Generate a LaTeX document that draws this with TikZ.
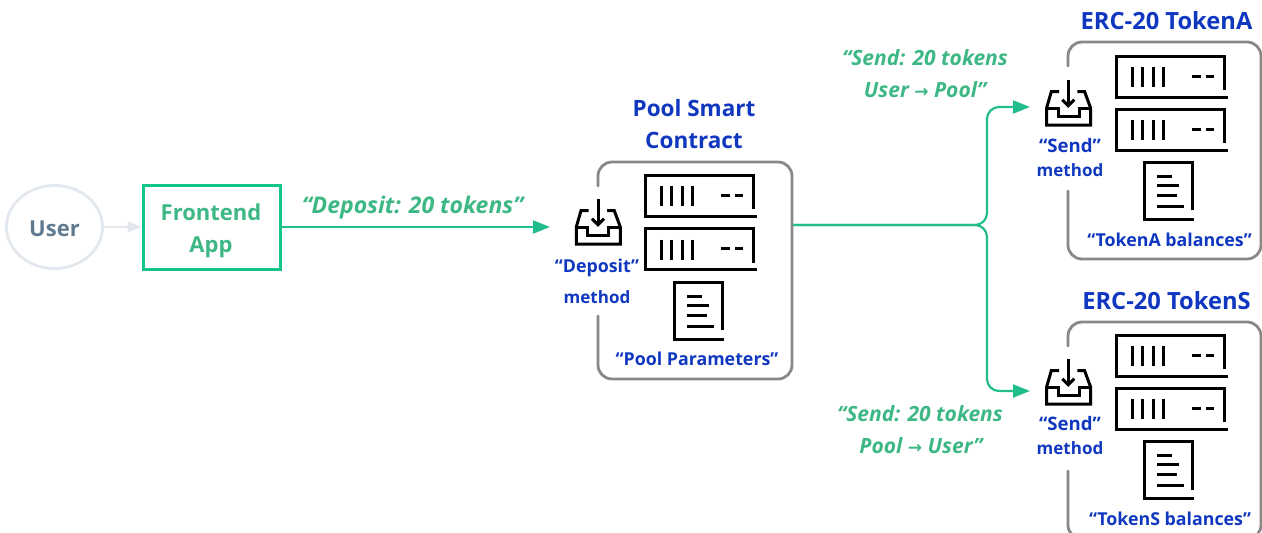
\documentclass[tikz,border=0pt]{standalone}
\usepackage{fontspec}
\setmainfont{Open Sans}
\newfontfamily\uifont{Open Sans}
\newfontfamily\arrowfont{DejaVu Sans}
\usetikzlibrary{arrows.meta,shapes.geometric}
\definecolor{tblue}{HTML}{0F37BF}
\definecolor{tgreen}{HTML}{3DB884}
\definecolor{lgreen}{HTML}{13C58A}
\definecolor{cgreen}{HTML}{22BD8C}
\definecolor{pale}{HTML}{E2E8EE}
\definecolor{slate}{HTML}{5F7A8F}
\definecolor{framegray}{HTML}{888888}
\newcommand{\rarr}{{\arrowfont\bfseries\upshape\fontsize{17}{20}\selectfont →}}
\tikzset{
  lab/.style={inner sep=0pt,anchor=base,text=tblue,font=\fontsize{17}{20}\selectfont\bfseries},
  qlab/.style={inner sep=0pt,anchor=base,text=tblue,font=\fontsize{17.8}{20}\selectfont\bfseries},
  sendlab/.style={inner sep=0pt,anchor=base,text=tblue,font=\fontsize{18.6}{20}\selectfont\bfseries},
  head/.style={inner sep=0pt,anchor=base,text=tblue,font=\fontsize{22.5}{26}\selectfont\bfseries},
  bighead/.style={inner sep=0pt,anchor=base,text=tblue,font=\fontsize{23.7}{26}\selectfont\bfseries},
  say/.style={inner sep=0pt,anchor=base,text=tgreen,font=\fontsize{21}{24}\selectfont\bfseries\itshape},
  bigsay/.style={inner sep=0pt,anchor=base,text=tgreen,font=\fontsize{23}{26}\selectfont\bfseries\itshape},
  uilab/.style={inner sep=0pt,anchor=base,font=\uifont\fontsize{22}{26}\selectfont\bfseries},
  frame/.style={draw=framegray,line width=2.8pt,rounded corners=14pt,line cap=round},
  icon/.style={draw=black,line width=3pt,line join=miter},
  flow/.style={draw=cgreen,line width=2.2pt,rounded corners=12pt,-{Triangle[length=17pt,width=13pt]}}
}
\newcommand{\serverglyph}[2]{%
  \begin{scope}[shift={(#1,#2)}]
    \draw[icon] (108,34) -- (108,0) -- (0,0) -- (0,41) -- (112,41);
    \foreach \xx in {16,26,37,47}{\draw[icon] (\xx,11) -- (\xx,31);}
    \draw[icon] (76,20) -- (85,20);
    \draw[icon] (90,20) -- (98,20);
  \end{scope}}
\newcommand{\docglyph}[2]{%
  \begin{scope}[shift={(#1,#2)}]
    \draw[icon] (48,48) -- (48,0) -- (0,0) -- (0,57) -- (50,57);
    \draw[icon] (13,14) -- (28,14);
    \draw[icon] (13,23) -- (35,23);
    \draw[icon] (13,33) -- (33,33);
    \draw[icon] (13,44) -- (40,44);
  \end{scope}}
\newcommand{\trayglyph}[2]{%
  \begin{scope}[shift={(#1,#2)}]
    \draw[icon] (-9.3,11.7) -- (-17,11.7) -- (-21.7,28) -- (-21.7,45) -- (22.3,45) -- (22.3,28) -- (16.3,11.7) -- (9,11.7);
    \draw[icon] (-21.7,28) -- (-10.3,28) -- (-10.3,36.7) -- (10.7,36.7) -- (10.7,28) -- (22.3,28);
    \draw[icon] (0,0) -- (0,25);
    \draw[icon] (-6,19.7) -- (0,25.7) -- (6,19.7);
  \end{scope}}
\newcommand{\framepath}[6]{% left top right bottom gaptop gapbottom
  \draw[frame] (#1,#5) -- (#1,#2) -- (#3,#2) -- (#3,#4) -- (#1,#4) -- (#1,#6);}
\begin{document}
\begin{tikzpicture}[x=1pt,y=-1pt]
\useasboundingbox (0,0) rectangle (1262,533);
\clip (0,0) rectangle (1262,533);
% user and frontend
\node[draw=pale,line width=2.8pt,ellipse,minimum width=96pt,minimum height=83pt,inner sep=0pt] (user) at (54.5,227) {};
\node[uilab,text=slate] (usertxt) at (54.5,236) {User};
\node[draw=lgreen,line width=3pt,minimum width=137pt,minimum height=84pt,inner sep=0pt] (front) at (211.5,227) {};
\node[uilab,text=tgreen] (fronta) at (211,220) {Frontend};
\node[uilab,text=tgreen] (frontb) at (211,252) {App};
\draw[draw=pale,line width=1.5pt,-{Triangle[length=14pt,width=11pt]}] (user.east) -- (front.west);
% pool
\node[head] (poolh1) at (694,116) {Pool Smart};
\node[head] (poolh2) at (694,148) {Contract};
\framepath{598}{162}{792}{379}{186}{316}
\trayglyph{598}{199}
\serverglyph{645}{175}
\serverglyph{645}{228.5}
\docglyph{674}{282}
\node[qlab] (pool1) at (597,272) {“Deposit”};
\node[lab] (pool2) at (597,303) {method};
\node[qlab] (pool3) at (697,365) {“Pool Parameters”};
\coordinate (poolin) at (550,227);
\coordinate (poolout) at (793,225);
\coordinate (fork) at (987,225);
% token A
\node[bighead] (ah) at (1166.5,29) {ERC-20 TokenA};
\framepath{1068}{42}{1261}{259}{66}{191}
\trayglyph{1068.3}{80}
\serverglyph{1116}{56}
\serverglyph{1116}{109}
\docglyph{1144.4}{162.3}
\node[sendlab] (a1) at (1070,152) {“Send”};
\node[lab] (a2) at (1070,176) {method};
\node[qlab] (a3) at (1169.5,246) {“TokenA balances”};
\coordinate (ain) at (1030,107);
% token S
\node[bighead] (sh) at (1166.5,309) {ERC-20 TokenS};
\framepath{1068}{322}{1261}{539}{346}{471}
\trayglyph{1068.3}{359}
\serverglyph{1116}{335}
\serverglyph{1116}{388}
\docglyph{1144.4}{441.5}
\node[sendlab] (s1) at (1070,430) {“Send”};
\node[lab] (s2) at (1070,454) {method};
\node[qlab] (s3) at (1170,525) {“TokenS balances”};
\coordinate (sin) at (1030,391);
% connectors
\draw[flow] (front.east |- poolin) -- (poolin);
\draw[flow] (poolout) -- (fork) -- (fork |- ain) -- (ain);
\draw[flow] (poolout) -- (fork) -- (fork |- sin) -- (sin);
% speech
\node[bigsay] (d1) at (412.5,213) {“Deposit: 20 tokens”};
\node[say] (u1) at (925,65) {“Send: 20 tokens};
\node[say] (u2) at (925,97) {User \rarr{} Pool”};
\node[say] (l1) at (920,421) {“Send: 20 tokens};
\node[say] (l2) at (921,453) {Pool \rarr{} User”};
\end{tikzpicture}
\end{document}
